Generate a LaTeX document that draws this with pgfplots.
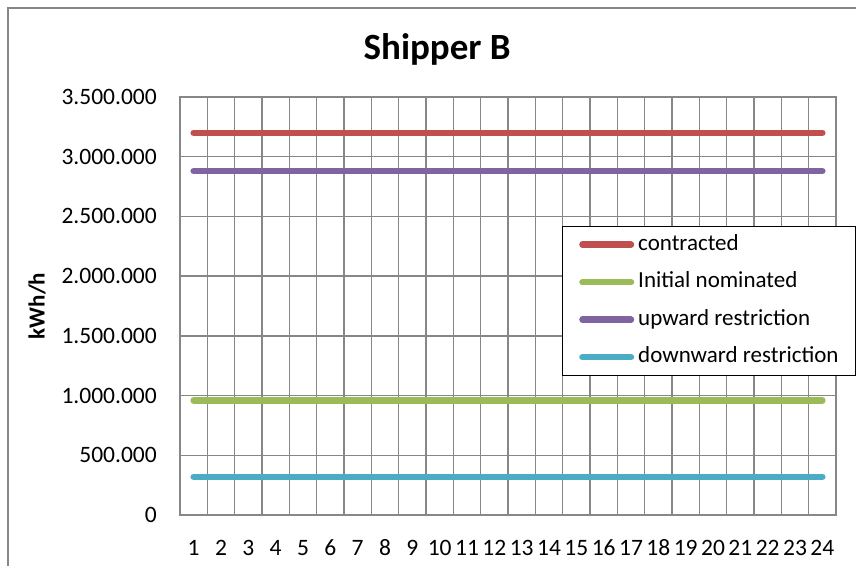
\documentclass[border=0pt]{standalone}
\usepackage{pgfplots}
\usepackage{pgfplotstable}
\pgfplotsset{compat=1.18}
\usepackage{fontspec}
\setmainfont{Carlito}
\definecolor{cred}{HTML}{C0504D}
\definecolor{cgreen}{HTML}{9BBB59}
\definecolor{cpurple}{HTML}{8064A2}
\definecolor{ccyan}{HTML}{4BACC6}
\definecolor{gridgray}{HTML}{878787}
\pgfplotstableread{
x c n u d
1 3200000 960000 2880000 320000
2 3200000 960000 2880000 320000
3 3200000 960000 2880000 320000
4 3200000 960000 2880000 320000
5 3200000 960000 2880000 320000
6 3200000 960000 2880000 320000
7 3200000 960000 2880000 320000
8 3200000 960000 2880000 320000
9 3200000 960000 2880000 320000
10 3200000 960000 2880000 320000
11 3200000 960000 2880000 320000
12 3200000 960000 2880000 320000
13 3200000 960000 2880000 320000
14 3200000 960000 2880000 320000
15 3200000 960000 2880000 320000
16 3200000 960000 2880000 320000
17 3200000 960000 2880000 320000
18 3200000 960000 2880000 320000
19 3200000 960000 2880000 320000
20 3200000 960000 2880000 320000
21 3200000 960000 2880000 320000
22 3200000 960000 2880000 320000
23 3200000 960000 2880000 320000
24 3200000 960000 2880000 320000
}\datatable
\begin{document}
\begin{tikzpicture}
\useasboundingbox (-180bp,-51bp) rectangle (676bp,515bp);
\draw[gridgray, line width=1.5bp] (-172bp,-51bp) -- (-172bp,507bp) -- (676bp,507bp);
\begin{axis}[
  at={(0bp,0bp)}, anchor=south west,
  width=656bp, height=418bp, scale only axis,
  xmin=0.5, xmax=24.5, ymin=0, ymax=3500000,
  xtick={1,...,24},
  xticklabels={1,2,3,4,5,6,7,8,9,10,11,12,13,14,15,16,17,18,19,20,21,22,23,24},
  minor xtick={0.5,1.5,...,24.5},
  ytick={0,500000,1000000,1500000,2000000,2500000,3000000,3500000},
  yticklabels={0,500.000,1.000.000,1.500.000,2.000.000,2.500.000,3.000.000,3.500.000},
  scaled y ticks=false,
  major tick length=0pt, minor tick length=0pt,
  xminorgrids=true, ymajorgrids=true, xmajorgrids=false,
  grid style={color=gridgray, line width=1.4bp},
  minor grid style={color=gridgray, line width=1.4bp},
  axis line style={color=gridgray, line width=1.4bp},
  tick label style={font=\fontsize{23.5bp}{28bp}\selectfont, text=black},
  yticklabel style={inner sep=0pt, xshift=-23bp},
  xticklabel style={inner sep=0pt, anchor=base, yshift=-40.5bp},
  title={Shipper B},
  title style={font=\bfseries\fontsize{37bp}{44bp}\selectfont, at={(axis description cs:0.392,1.0766)}, anchor=base, inner sep=0pt},
  ylabel={kWh/h},
  ylabel style={font=\bfseries\fontsize{23bp}{28bp}\selectfont, at={(axis description cs:-0.218,0.5)}, anchor=center, inner sep=0pt},
  legend cell align=left,
  legend image code/.code={\draw (0bp,0bp) -- (48.5bp,0bp);},
  legend style={at={(rel axis cs:0.582,0.6914)}, anchor=north west,
    draw=black, line width=0.9bp, fill=white,
    font=\fontsize{23bp}{28bp}\selectfont,
    inner xsep=17bp, inner ysep=6.5bp, row sep=14bp,
    nodes={inner sep=0pt, text height=17.5bp, text depth=6bp},
    /tikz/every odd column/.append style={column sep=4bp}},
]
\addplot[color=cred, line width=6.5bp, line cap=round] table[x=x,y=c]{\datatable};
\addlegendentry{contracted}
\addplot[color=cgreen, line width=6.5bp, line cap=round] table[x=x,y=n]{\datatable};
\addlegendentry{Initial nominated}
\addplot[color=cpurple, line width=6.5bp, line cap=round] table[x=x,y=u]{\datatable};
\addlegendentry{upward restriction}
\addplot[color=ccyan, line width=6.5bp, line cap=round] table[x=x,y=d]{\datatable};
\addlegendentry{downward restriction}
\end{axis}
\end{tikzpicture}
\end{document}
